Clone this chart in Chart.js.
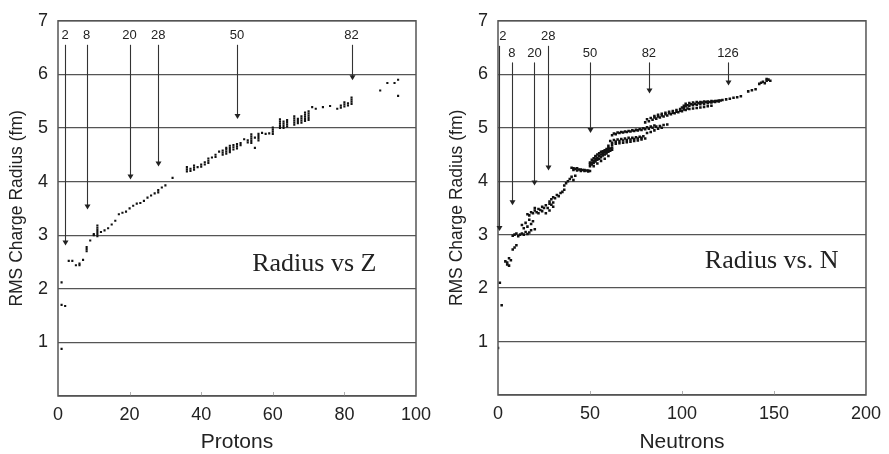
<!DOCTYPE html>
<html><head><meta charset="utf-8">
<script src="https://cdn.jsdelivr.net/npm/chart.js@4"></script>
<style>
html,body{margin:0;padding:0;background:#fff;}
#wrap{position:relative;width:889px;height:454px;overflow:hidden;}
#c1{position:absolute;left:0;top:0;}
#c2{position:absolute;left:440px;top:0;}
</style></head><body>
<div id="wrap"><canvas id="c1" width="440" height="454"></canvas><canvas id="c2" width="449" height="454"></canvas></div>
<script>
// ---- Left chart: radius vs proton number Z ----
const protonZ = [1,1,1,2,
 3,4,5,6,6,7,
 8,8,8,9,10,10,
 11,11,11,11,11,11,
 12,13,14,15,16,
 17,18,19,20,21,22,23,24,25,26,27,28,28,29,30,32,
 36,36,36,37,37,38,38,38,39,40,40,
 41,41,42,42,42,43,
 44,44,45,46,46,46,47,47,47,47,
 48,48,48,48,49,49,49,50,50,50,51,51,
 52,53,53,54,54,54,54,54,55,55,
 56,56,56,56,57,58,59,
 60,60,60,60,62,62,62,62,62,63,63,63,63,64,64,64,64,
 66,66,66,66,66,67,67,67,68,68,68,68,69,69,69,69,69,70,70,70,70,70,
 71,72,74,76,78,79,79,80,80,80,81,81,82,82,82,82,
 90,92,94,95,95];
const protonR = [0.88,1.70,2.12,1.68,
 2.52,2.52,2.44,2.44,2.47,2.54,
 2.70,2.74,2.78,2.90,3.00,3.02,
 2.98,3.02,3.06,3.10,3.14,3.18,
 3.06,3.09,3.13,3.20,3.27,
 3.39,3.42,3.44,3.50,3.55,3.59,3.60,3.64,3.70,3.74,3.78,3.80,3.84,3.89,3.93,4.07,
 4.19,4.23,4.27,4.20,4.24,4.22,4.26,4.30,4.27,4.28,4.32,
 4.32,4.36,4.35,4.39,4.43,4.45,
 4.46,4.50,4.56,4.50,4.54,4.58,4.52,4.56,4.60,4.63,
 4.55,4.59,4.63,4.67,4.60,4.64,4.68,4.62,4.66,4.70,4.68,4.72,
 4.79,4.73,4.77,4.72,4.76,4.80,4.84,4.88,4.63,4.82,
 4.77,4.81,4.85,4.89,4.91,4.89,4.90,
 4.89,4.93,4.97,5.01,5.00,5.04,5.08,5.12,5.16,5.00,5.04,5.08,5.12,5.03,5.07,5.11,5.15,
 5.06,5.10,5.14,5.18,5.22,5.09,5.13,5.17,5.10,5.14,5.18,5.22,5.13,5.17,5.21,5.25,5.29,5.15,5.19,5.23,5.27,5.31,
 5.39,5.36,5.39,5.41,5.36,5.38,5.42,5.40,5.44,5.48,5.42,5.46,5.45,5.49,5.53,5.57,
 5.70,5.84,5.84,5.90,5.60];

// ---- Right chart: radius vs neutron number N ----
const neutronN = [0,1,2,
 4,5,6,7,5,6,
 8,9,10,
 8,9,10,11,12,13,14,15,16,17,18,
 13,14,15,16,17,18,20,19,
 16,17,18,19,20,21,22,23,24,25,26,27,28,29,30,20,22,24,26,28,
 28,29,30,31,32,33,34,35,36,30,
 36,37,38,39,40,41,42,
 40,41,42,43,44,45,46,47,48,49,50,
 41,43,45,47,49,
 50,51,52,53,54,55,56,57,58,59,60,61,62,
 50,51,52,53,54,55,56,57,58,59,60,61,62,
 51,52,53,54,55,56,57,58,59,60,
 52,54,56,58,60,50,53,57,
 60,62,64,66,68,70,72,74,76,78,80,61,63,65,67,69,71,73,75,77,79,
 62,64,66,68,70,72,74,76,78,
 62,64,66,68,70,72,74,76,78,80,82,84,86,88,90,92,81,83,85,87,89,
 63,65,67,69,71,73,75,77,79,81,83,85,
 80,82,84,86,88,90,92,94,96,98,100,102,85,87,89,91,93,95,97,99,101,
 81,83,85,87,89,91,93,95,97,99,101,103,
 100,102,104,106,108,110,112,114,116,118,120,104,106,108,110,112,114,116,
 101,103,105,107,109,111,113,115,117,119,121,
 102,104,106,108,110,112,114,116,118,120,122,124,126,128,130,132,
 136,138,140,142,143,144,146,147,148,145,146];
const neutronR = [0.88,2.10,1.68,
 2.50,2.44,2.56,2.52,2.48,2.42,
 2.72,2.76,2.80,
 2.98,3.00,3.02,2.97,3.00,3.02,3.00,3.05,3.01,3.04,3.08,
 3.18,3.12,3.22,3.15,3.28,3.20,3.10,3.25,
 3.38,3.36,3.42,3.40,3.45,3.42,3.48,3.46,3.52,3.50,3.55,3.50,3.58,3.56,3.52,3.50,3.40,3.44,3.40,3.45,
 3.62,3.66,3.70,3.68,3.74,3.72,3.78,3.80,3.84,3.60,
 3.92,3.96,4.00,4.04,4.08,4.02,4.10,
 4.25,4.24,4.23,4.24,4.22,4.22,4.21,4.21,4.20,4.20,4.19,
 4.21,4.20,4.19,4.19,4.18,
 4.28,4.31,4.34,4.37,4.40,4.42,4.45,4.48,4.50,4.52,4.55,4.57,4.59,
 4.32,4.35,4.38,4.41,4.44,4.47,4.50,4.52,4.54,4.56,4.58,4.61,4.63,
 4.40,4.43,4.47,4.50,4.52,4.55,4.56,4.58,4.60,4.62,
 4.28,4.33,4.38,4.42,4.47,4.35,4.46,4.52,
 4.66,4.68,4.70,4.71,4.72,4.73,4.74,4.75,4.76,4.78,4.80,4.75,4.77,4.78,4.79,4.80,4.81,4.81,4.82,4.83,4.84,
 4.72,4.74,4.75,4.76,4.77,4.78,4.79,4.80,4.81,
 4.86,4.88,4.90,4.91,4.92,4.93,4.94,4.95,4.96,4.97,4.98,5.00,5.02,5.03,5.05,5.06,4.90,4.92,4.95,4.98,5.00,
 4.89,4.91,4.92,4.93,4.94,4.95,4.96,4.97,4.99,5.01,5.02,5.04,
 5.10,5.12,5.15,5.17,5.19,5.21,5.23,5.25,5.27,5.29,5.31,5.33,5.22,5.24,5.26,5.28,5.30,5.31,5.33,5.35,5.37,
 5.16,5.18,5.19,5.21,5.23,5.25,5.27,5.28,5.30,5.32,5.34,5.36,
 5.38,5.40,5.41,5.42,5.43,5.44,5.45,5.46,5.47,5.48,5.49,5.35,5.36,5.37,5.38,5.39,5.40,5.41,
 5.41,5.42,5.44,5.45,5.46,5.47,5.48,5.48,5.49,5.50,5.51,
 5.45,5.46,5.47,5.48,5.48,5.49,5.49,5.50,5.50,5.51,5.52,5.53,5.54,5.56,5.57,5.59,
 5.68,5.70,5.72,5.82,5.84,5.86,5.88,5.90,5.88,5.83,5.91];

// ---- Tick labels / axis ----
const yTickValues = [1,2,3,4,5,6,7];
const protonTicks = [0,20,40,60,80,100];
const neutronTicks = [0,50,100,150,200];

// ---- Magic number annotations ----
const leftMagic = ['2','8','20','28','50','82'];
const leftMagicX = [2,8,20,28,50,82];
const leftLabelR = [6.72,6.72,6.72,6.72,6.72,6.72];
const leftArrowTip = [2.81,3.48,4.04,4.28,5.17,5.89];

const rightMagic = ['2','8','20','28','50','82','126'];
const rightLabelX = [2.6,7.5,19.8,27.3,50,82,125];
const rightArrowX = [0.8,7.5,19.8,27.3,50,82,125];
const rightLabelR = [6.70,6.39,6.39,6.70,6.39,6.39,6.39];
const rightArrowTip = [3.07,3.55,3.92,4.20,4.90,5.64,5.79];

const TXT = '#222';
const GRID = '#555';
const SANS = "'Liberation Sans', Arial, Helvetica, sans-serif";

function overlay(opts) {
  return {
    id: 'overlay',
    afterDraw(chart) {
      const ctx = chart.ctx, a = chart.chartArea;
      const xs = chart.scales.x, ys = chart.scales.y;
      ctx.save();
      ctx.strokeStyle = '#b0b0b0'; ctx.lineWidth = 1;
      xs.ticks.forEach(t => {
        if (t.value <= xs.min || t.value >= xs.max) return;
        const px = Math.round(xs.getPixelForValue(t.value)) + 0.5;
        ctx.beginPath(); ctx.moveTo(px, a.bottom); ctx.lineTo(px, a.bottom - 4); ctx.stroke();
      });
      ctx.strokeStyle = GRID; ctx.lineWidth = 1.5;
      ctx.strokeRect(a.left, a.top, a.right - a.left, a.bottom - a.top);
      ctx.fillStyle = TXT; ctx.strokeStyle = '#333'; ctx.lineWidth = 1.1;
      ctx.font = '13px ' + SANS; ctx.textAlign = 'center'; ctx.textBaseline = 'middle';
      opts.labels.forEach((lab, i) => {
        const lx = xs.getPixelForValue(opts.labelX[i]);
        const ly = ys.getPixelForValue(opts.labelR[i]);
        ctx.fillText(lab, lx, ly);
        const ax = Math.round(xs.getPixelForValue(opts.arrowX[i])) + 0.5;
        const y0 = ly + 9;
        const y1 = ys.getPixelForValue(opts.arrowTip[i]);
        ctx.beginPath(); ctx.moveTo(ax, y0); ctx.lineTo(ax, y1 - 4); ctx.stroke();
        ctx.beginPath(); ctx.moveTo(ax - 3, y1 - 5); ctx.lineTo(ax + 3, y1 - 5); ctx.lineTo(ax, y1); ctx.closePath(); ctx.fill();
      });
      ctx.font = "26px 'Liberation Serif', 'Times New Roman', serif";
      ctx.fillStyle = TXT;
      ctx.fillText(opts.title, xs.getPixelForValue(opts.titleX), ys.getPixelForValue(opts.titleY));
      ctx.restore();
    }
  };
}

function makeChart(id, xsArr, ysArr, xTicks, xTitle, topPad, rightPad, bottomH, ptR, ov) {
  const data = xsArr.map((x, i) => ({x: x, y: ysArr[i]}));
  return new Chart(document.getElementById(id), {
    type: 'scatter',
    data: {datasets: [{data: data, pointStyle: 'rect', pointRadius: ptR, pointBorderWidth: 0,
      backgroundColor: '#111', borderColor: '#111'}]},
    options: {
      responsive: false, animation: false,
      layout: {padding: {top: topPad, right: rightPad, left: 0, bottom: 0}},
      plugins: {legend: {display: false}, tooltip: {enabled: false}},
      scales: {
        x: {type: 'linear', min: xTicks[0], max: xTicks[xTicks.length - 1],
          afterBuildTicks: s => { s.ticks = xTicks.map(v => ({value: v})); },
          afterFit: s => { s.height = bottomH; },
          grid: {display: false, drawTicks: false}, border: {display: false},
          ticks: {color: TXT, font: {family: SANS, size: 18}, padding: 8, maxRotation: 0, autoSkip: false},
          title: {display: true, text: xTitle, color: TXT, font: {family: SANS, size: 21, lineHeight: 1}, padding: {top: 0, bottom: 1}}
        },
        y: {type: 'linear', min: 0, max: 7,
          afterBuildTicks: s => { s.ticks = [0].concat(yTickValues).map(v => ({value: v})); },
          afterFit: s => { s.width = 58; },
          grid: {color: GRID, lineWidth: 1.3, drawTicks: false}, border: {display: false},
          ticks: {color: TXT, font: {family: SANS, size: 18}, padding: 10, callback: v => v === 0 ? '' : String(v)},
          title: {display: true, text: 'RMS Charge Radius (fm)', color: TXT, font: {family: SANS, size: 17.5, lineHeight: 1.1}, padding: {top: 8, bottom: 0}}
        }
      }
    },
    plugins: [overlay(ov)]
  });
}

makeChart('c1', protonZ, protonR, protonTicks, 'Protons', 18, 24, 58, 1.5, {
  labels: leftMagic, labelX: leftMagicX, labelR: leftLabelR, arrowX: leftMagicX, arrowTip: leftArrowTip,
  title: 'Radius vs Z', titleX: 71.6, titleY: 2.46
});
makeChart('c2', neutronN, neutronR, neutronTicks, 'Neutrons', 16, 17, 59, 1.8, {
  labels: rightMagic, labelX: rightLabelX, labelR: rightLabelR, arrowX: rightArrowX, arrowTip: rightArrowTip,
  title: 'Radius vs. N', titleX: 148.7, titleY: 2.5
});
</script>
</body></html>
